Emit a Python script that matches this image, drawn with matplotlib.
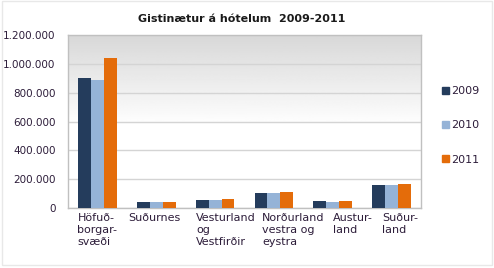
import numpy as np
import matplotlib
matplotlib.use("Agg")
import matplotlib.pyplot as plt
from matplotlib.patches import Rectangle, Patch

regions = ["Höfuð-\nborgar-\nsvæði", "Suðurnes", "Vesturland\nog\nVestfirðir",
           "Norðurland\nvestra og\neystra", "Austur-\nland", "Suður-\nland"]
years = ["2009", "2010", "2011"]
v2009 = [904000, 44000, 57000, 105000, 50000, 160000]
v2010 = [885000, 44000, 57000, 105000, 43000, 159000]
v2011 = [1038000, 45000, 64000, 112000, 50000, 168000]
colors = ["#243c5c", "#95b3d7", "#e46c0a"]
yticks = [0, 200000, 400000, 600000, 800000, 1000000, 1200000]

# label left edges, in category units from slot start
label_off = [0.16, 0.02, 0.18, 0.30, 0.50, 0.34]

txt = "#2d1d3a"
fig = plt.figure(figsize=(4.94, 2.68), dpi=100)
fig.patches.append(Rectangle((0.004, 0.01), 0.992, 0.985, transform=fig.transFigure,
                             fill=False, edgecolor="#e8e8e8", lw=1))
ax = fig.add_axes([68 / 494, 1 - 208 / 268, 353 / 494, 173 / 268])

# gradient background
grad = np.linspace(0, 1, 256).reshape(-1, 1)
grad = np.clip(grad * 1.9, 0, 1)
ax.imshow(grad, extent=[-0.5, 5.5, 0, 1200000], aspect="auto", cmap="gray",
          vmin=-5.5, vmax=1.0, origin="upper", zorder=0)

x = np.arange(len(regions))
w = 0.22
for i, (vals, c, lab) in enumerate(zip([v2009, v2010, v2011], colors, years)):
    ax.bar(x + (i - 1) * w, vals, w, color=c, label=lab, zorder=3)

ax.set_xlim(-0.5, 5.5)
ax.set_ylim(0, 1200000)
ax.set_yticks(yticks)
ax.set_yticklabels([f"{v:,}".replace(",", ".") for v in yticks], fontsize=7.5, color=txt)
ax.tick_params(axis="y", length=0, pad=9)
ax.set_xticks([])
ax.grid(axis="y", color="#d4d4d4", lw=1, zorder=1)
for s in ax.spines.values():
    s.set_color("#c0c0c0")
    s.set_linewidth(1)

for i, name in enumerate(regions):
    ax.text(i - 0.5 + label_off[i], -0.03, name, transform=ax.get_xaxis_transform(),
            ha="left", va="top", fontsize=8, color=txt, linespacing=1.25)

fig.text(0.49, 1 - 19 / 268, "Gistinætur á hótelum  2009-2011", ha="center", va="center",
         fontsize=8, fontweight="bold", color="#1a1a1a")

handles = [Patch(color=c, label=y) for c, y in zip(colors, years)]
fig.legend(handles=handles, loc="upper left", bbox_to_anchor=(432 / 494, 1 - 76 / 268),
           frameon=False, fontsize=8, handlelength=0.6, handleheight=0.6,
           handletextpad=0.25, labelspacing=2.2, labelcolor=txt)

fig.savefig("out.png", dpi=100)
